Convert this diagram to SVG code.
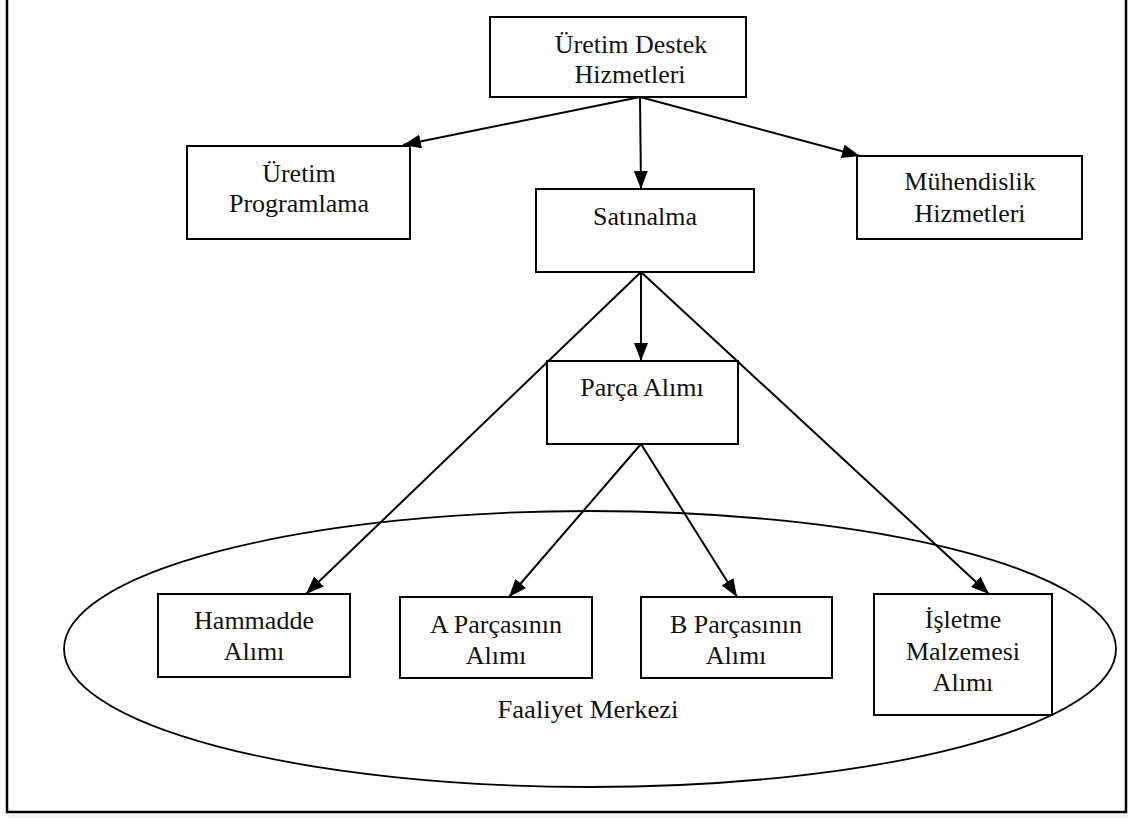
<svg xmlns="http://www.w3.org/2000/svg" width="1136" height="818" viewBox="0 0 1136 818">
  <style>
    .box { fill: #ffffff; stroke: #000000; stroke-width: 2; }
    .lbl { font-family: "Liberation Serif", "DejaVu Serif", "Noto Serif", Times, serif; font-size: 26px; fill: #111111; text-anchor: middle; }
    .arrow { fill: none; stroke: #000000; stroke-width: 2; marker-end: url(#head); }
  </style>
  <defs>
    <marker id="head" viewBox="0 0 18 14" refX="18" refY="7" markerWidth="18" markerHeight="14" markerUnits="userSpaceOnUse" orient="auto">
      <path d="M0,0 L18,7 L0,14 Z" fill="#000000"/>
    </marker>
  </defs>

  <rect x="0" y="0" width="1136" height="818" fill="#ffffff"/>
  <!-- faint page shadow below the frame -->
  <rect x="8" y="815" width="1120" height="3" fill="#f0f0f0"/>

  <!-- outer frame -->
  <rect id="frame" x="7" y="-3" width="1119" height="815" fill="none" stroke="#000000" stroke-width="2.5"/>

  <!-- activity centre ellipse -->
  <g id="faaliyet-merkezi">
    <ellipse cx="590" cy="649" rx="526" ry="138" fill="none" stroke="#000000" stroke-width="1.8"/>
    <text class="lbl" x="588" y="718" textLength="181" lengthAdjust="spacingAndGlyphs">Faaliyet Merkezi</text>
  </g>

  <!-- connectors -->
  <g id="connectors">
    <line class="arrow" x1="640" y1="97" x2="403" y2="145"/>
    <line class="arrow" x1="640" y1="97" x2="641" y2="189"/>
    <line class="arrow" x1="640" y1="97" x2="860" y2="156"/>
    <line class="arrow" x1="641" y1="272" x2="641" y2="361"/>
    <line class="arrow" x1="641" y1="272" x2="306" y2="594"/>
    <line class="arrow" x1="641" y1="272" x2="989" y2="594"/>
    <line class="arrow" x1="641" y1="444" x2="509" y2="597"/>
    <line class="arrow" x1="641" y1="444" x2="737" y2="597"/>
  </g>

  <g id="uretim-destek">
    <rect class="box" x="490" y="17" width="256" height="80"/>
    <text class="lbl" x="631" y="53">Üretim Destek</text>
    <text class="lbl" x="630" y="83">Hizmetleri</text>
  </g>

  <g id="uretim-programlama">
    <rect class="box" x="187" y="146" width="223" height="93"/>
    <text class="lbl" x="299" y="182">Üretim</text>
    <text class="lbl" x="299" y="212">Programlama</text>
  </g>

  <g id="satinalma">
    <rect class="box" x="536" y="189" width="218" height="83"/>
    <text class="lbl" x="645" y="225">Satınalma</text>
  </g>

  <g id="muhendislik">
    <rect class="box" x="857" y="156" width="225" height="83"/>
    <text class="lbl" x="970" y="190">Mühendislik</text>
    <text class="lbl" x="970" y="222">Hizmetleri</text>
  </g>

  <g id="parca-alimi">
    <rect class="box" x="547" y="361" width="191" height="83"/>
    <text class="lbl" x="642" y="396">Parça Alımı</text>
  </g>

  <g id="hammadde">
    <rect class="box" x="158" y="594" width="192" height="83"/>
    <text class="lbl" x="254" y="629">Hammadde</text>
    <text class="lbl" x="254" y="660">Alımı</text>
  </g>

  <g id="a-parcasi">
    <rect class="box" x="400" y="597" width="192" height="81"/>
    <text class="lbl" x="496" y="633">A Parçasının</text>
    <text class="lbl" x="496" y="664">Alımı</text>
  </g>

  <g id="b-parcasi">
    <rect class="box" x="641" y="597" width="191" height="81"/>
    <text class="lbl" x="736" y="633">B Parçasının</text>
    <text class="lbl" x="736" y="664">Alımı</text>
  </g>

  <g id="isletme-malzemesi">
    <rect class="box" x="874" y="594" width="178" height="121"/>
    <text class="lbl" x="963" y="628">İşletme</text>
    <text class="lbl" x="963" y="660">Malzemesi</text>
    <text class="lbl" x="963" y="691">Alımı</text>
  </g>
</svg>
